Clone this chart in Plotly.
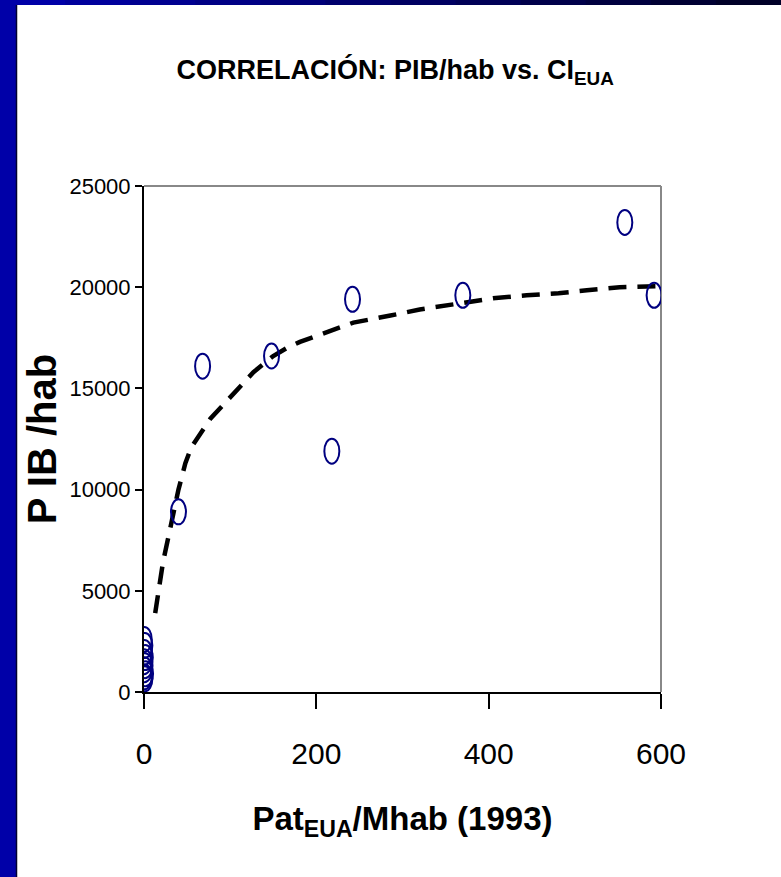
import plotly.graph_objects as go

# ---- data ----
pat_eua = [0.3, 1.0, 0.5, 1.5, 0.2, 1.2, 0.6, 1.8, 0.4, 1.0,
           40, 68, 148, 218, 242, 370, 558, 592]
pib_hab = [2600, 2300, 1950, 1700, 1500, 1300, 1100, 900, 750, 650,
           8900, 16100, 16600, 11900, 19400, 19600, 23200, 19600]

trend_x = [13, 22, 30, 40, 48, 55, 77, 88, 108, 127, 150, 166, 181, 208,
           243, 286, 320, 359, 405, 444, 481, 514, 552, 595]
trend_y = [3900, 6400, 8000, 10000, 11300, 12100, 13500, 14000, 14900, 15800,
           16600, 17000, 17300, 17700, 18250, 18600, 18900, 19150, 19450,
           19600, 19700, 19850, 20000, 20050]

x_ticks = [0, 200, 400, 600]
y_ticks = [0, 5000, 10000, 15000, 20000, 25000]

FONT = "Liberation Sans Narrow, Arial Narrow, Liberation Sans, Arial, sans-serif"

W, H = 781, 877
L, R, T, B = 144, 120, 186, 185
PW, PH = W - L - R, H - T - B

fig = go.Figure()

fig.add_trace(go.Scatter(
    x=trend_x, y=trend_y, mode="lines",
    line=dict(color="black", width=4.5, dash="18px,11px"),
    hoverinfo="skip", showlegend=False,
))

fig.add_trace(go.Scatter(
    x=pat_eua, y=pib_hab, mode="markers",
    marker=dict(symbol="circle-open", size=16, color="rgba(0,0,0,0)"),
    showlegend=False,
))

# elliptical open markers (the reference's markers are vertically stretched circles)
for xv, yv in zip(pat_eua, pib_hab):
    fig.add_shape(type="circle", xref="x", yref="y",
                  xsizemode="pixel", ysizemode="pixel",
                  xanchor=xv, yanchor=yv,
                  x0=-7.5, x1=7.5, y0=-12.5, y1=12.5,
                  line=dict(color="#000080", width=2), layer="above")

def px_x(p):
    return (p - L) / PW

def px_y(p):
    return (H - B - p) / PH

# gray top/right frame of the plot area
fig.add_shape(type="line", xref="paper", yref="paper", x0=0, x1=1, y0=1, y1=1,
              line=dict(color="#888888", width=2), layer="below")
fig.add_shape(type="line", xref="paper", yref="paper", x0=1, x1=1, y0=0, y1=1,
              line=dict(color="#888888", width=2), layer="below")

# slide border: blue left bar and dark top band
fig.add_shape(type="rect", xref="paper", yref="paper",
              x0=px_x(0), x1=px_x(16), y0=px_y(H), y1=px_y(0),
              fillcolor="#0000A8", line=dict(width=0), layer="below")
fig.add_shape(type="line", xref="paper", yref="paper",
              x0=px_x(16.5), x1=px_x(16.5), y0=px_y(H), y1=px_y(4),
              line=dict(color="#000030", width=1.5), layer="below")
n = 12
for i in range(n):
    t = i / (n - 1)
    b_ = int(168 * (1 - t) + 40 * t)
    fig.add_shape(type="rect", xref="paper", yref="paper",
                  x0=px_x(W * i / n), x1=px_x(W * (i + 1) / n + 1),
                  y0=px_y(5), y1=px_y(0),
                  fillcolor=f"rgb(0,0,{b_})", line=dict(width=0), layer="below")

fig.update_layout(
    width=W, height=H,
    margin=dict(l=L, r=R, t=T, b=B, autoexpand=False),
    paper_bgcolor="white", plot_bgcolor="white",
    showlegend=False,
    title=dict(
        text="<b>CORRELACIÓN: PIB/hab vs. CI<sub>EUA</sub></b>",
        x=0.506, xref="container", xanchor="center",
        y=1 - 70 / H, yref="container", yanchor="middle",
        font=dict(family=FONT, size=27, color="black"),
    ),
    font=dict(family=FONT, color="black"),
)

fig.update_xaxes(
    range=[0, 600], tickvals=x_ticks, ticktext=[str(v) for v in x_ticks],
    showgrid=False, zeroline=False,
    showline=True, linecolor="black", linewidth=2,
    ticks="outside", ticklen=15, tickwidth=2, tickcolor="black",
    tickfont=dict(family=FONT, size=30, color="black"),
    ticklabelstandoff=19,
    title=dict(text="<b>Pat<sub>EUA</sub>/Mhab (1993)</b>",
               font=dict(family=FONT, size=33, color="black"), standoff=38),
)
fig.update_yaxes(
    range=[0, 25000], tickvals=y_ticks, ticktext=[str(v) for v in y_ticks],
    showgrid=False, zeroline=False,
    showline=True, linecolor="black", linewidth=2,
    ticks="outside", ticklen=7, tickwidth=2, tickcolor="black",
    tickfont=dict(family=FONT, size=22, color="black"),
    title=dict(text="<b>P IB /hab</b>",
               font=dict(family=FONT, size=40, color="black"), standoff=0),
)

fig.write_html("out.html", config={"displayModeBar": False},
               post_script="document.body.style.margin='0';")
